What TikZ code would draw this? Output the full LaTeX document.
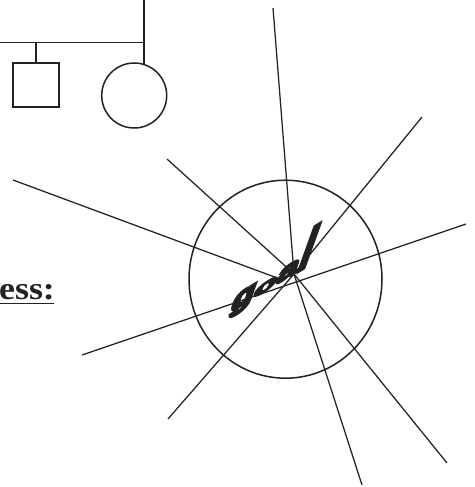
\documentclass[tikz,border=0pt]{standalone}
\usepackage{fontspec}
\setmainfont{Liberation Serif}
\newfontfamily\goalfont{Liberation Sans}[BoldFeatures={FakeBold=9}]
\usepackage{graphicx}
\usetikzlibrary{shapes.geometric}
\definecolor{ink}{HTML}{222222}
\begin{document}
\begin{tikzpicture}[x=1pt,y=-1pt,
  ink line/.style={draw=ink,line width=1.25pt},
  shape line/.style={draw=ink,line width=1.5pt,outer sep=0pt,inner sep=0pt},
  lbl/.style={text=ink,inner sep=0pt,anchor=base west}]
\useasboundingbox[fill=white] (0,0) rectangle (474,487);

% family (pedigree) fragment
\node[shape line,rectangle,minimum width=46pt,minimum height=44pt] (sq) at (36,85) {};
\node[shape line,circle,minimum size=65pt] (ci) at (134.2,95.5) {};
\coordinate (h0) at (-2,42.5);
\coordinate (hj) at (144,42.5);
\coordinate (hs) at (36,42.5);
\coordinate (vt) at (144,-2);
\coordinate (cj) at (144,64.3);
\draw[ink line,line width=1.5pt] (h0) -- (hj);
\draw[ink line,line width=1.5pt] (vt) -- (cj);
\draw[ink line,line width=1.5pt] (hs) -- (sq.north);

% partial heading
\node[lbl,font=\fontsize{32}{32}\selectfont\bfseries] (ess) at (-1,299) {\scalebox{1.12}[1]{ess:}};
\draw[ink line,line width=1.8pt] (0,303.5) -- (54,303.5);

% goal circle
\node[shape line,ellipse,minimum width=193pt,minimum height=198pt] (gc) at (285.5,279.2) {};

% rays
\coordinate (P) at (294,274);
\coordinate (eT) at (273,8);
\coordinate (eUL) at (167,159);
\coordinate (eUR) at (422,117);
\coordinate (eL) at (13,180);
\coordinate (eLe) at (280,279);
\coordinate (eLL) at (82,355);
\coordinate (eR) at (466,224);
\coordinate (eBL) at (168,419);
\coordinate (eB) at (362,485);
\coordinate (eBR) at (447,463);
\draw[ink line] (eT) -- (P);
\draw[ink line] (eUL) -- (P);
\draw[ink line] (eUR) -- (P);
\draw[ink line] (eL) -- (eLe);
\draw[ink line] (eLL) -- (eR);
\draw[ink line] (eBL) -- (P);
\draw[ink line] (eB) -- (P);
\draw[ink line] (eBR) -- (P);

% slanted goal word
\begin{scope}[shift={(228.2,313.9)},cm={3.6,2.2,0.72,2.0,(0,0)}]
\node[transform shape,lbl,font=\fontsize{10}{10}\goalfont\bfseries] (goal) at (0,0)
  {\scalebox{1.05}[1.7]{g}\scalebox{1.05}[1.05]{o}\scalebox{1.05}[1.45]{a}\scalebox{1.1}[3.0]{l}};
\end{scope}
\end{tikzpicture}
\end{document}
